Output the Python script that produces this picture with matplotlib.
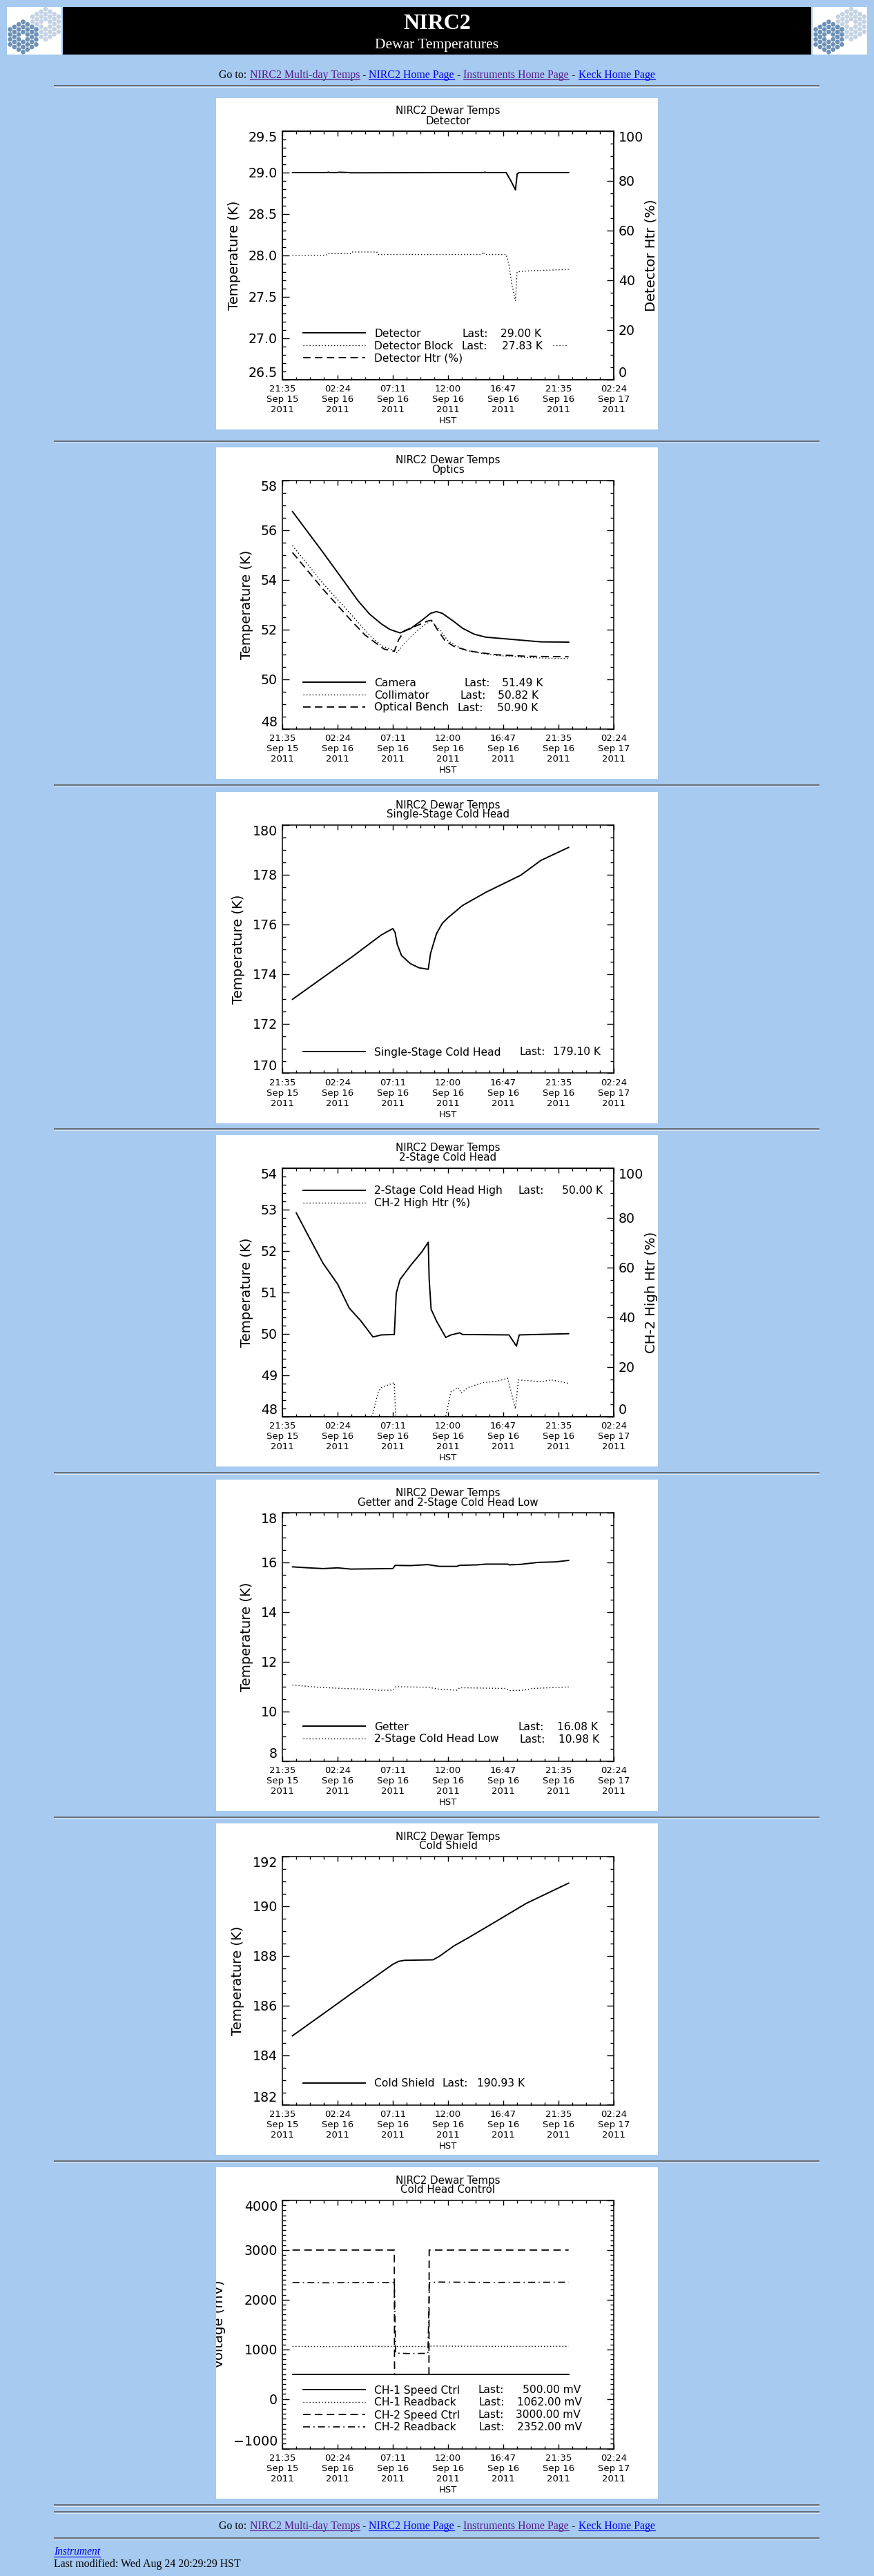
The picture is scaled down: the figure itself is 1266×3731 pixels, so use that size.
import numpy as np
import matplotlib
matplotlib.use("Agg")
import matplotlib.pyplot as plt
from matplotlib.lines import Line2D
from matplotlib.patches import Rectangle, Circle
from matplotlib.ticker import FixedLocator, MultipleLocator, FuncFormatter
from matplotlib.transforms import Bbox, TransformedBbox

plt.rcParams['font.family'] = ['DejaVu Sans']
plt.rcParams['axes.unicode_minus'] = True

# ------------------------------------------------------------------ data
# time axis: hours since 21:35 HST, Sep 15 2011
x_range = [0.0, 28.8]
x_major = [0.0, 4.8, 9.6, 14.4, 19.2, 24.0, 28.8]
x_minor_step = 1.2
xtick_labels = ["21:35\nSep 15\n2011", "02:24\nSep 16\n2011", "07:11\nSep 16\n2011",
                "12:00\nSep 16\n2011", "16:47\nSep 16\n2011", "21:35\nSep 16\n2011",
                "02:24\nSep 17\n2011"]

# Chart 1 - Detector
det_t = [0.88, 3.9, 4.0, 4.1, 4.8, 4.9, 5.8, 5.9, 17.5, 17.6, 17.7, 19.45, 19.86, 20.26, 20.41, 20.6, 24.88]
det_v = [29.00, 29.00, 29.005, 29.00, 29.00, 29.004, 29.00, 28.997, 29.00, 29.005, 29.00, 29.00, 28.90, 28.79, 28.985, 29.00, 29.00]
detblk_t = [0.88, 3.8, 3.9, 6.0, 6.1, 8.2, 8.3, 17.3, 17.45, 17.6, 19.45, 19.7, 19.96, 20.26, 20.4, 21.2, 24.88]
detblk_v = [28.00, 28.00, 28.02, 28.02, 28.04, 28.04, 28.01, 28.01, 28.04, 28.01, 28.01, 27.88, 27.64, 27.45, 27.80, 27.81, 27.83]

# Chart 2 - Optics
cam_t = [0.88, 3.54, 5.56, 6.57, 7.58, 8.59, 9.35, 10.23, 11.12, 12.13, 12.88, 13.39, 13.90, 14.91, 15.66, 16.67, 17.68, 18.70, 19.96, 21.22, 22.48, 24.88]
cam_v = [56.75, 55.10, 53.81, 53.16, 52.62, 52.23, 52.00, 51.86, 52.03, 52.37, 52.65, 52.72, 52.65, 52.32, 52.05, 51.81, 51.69, 51.65, 51.60, 51.55, 51.50, 51.49]
coll_t = [0.88, 3.54, 6.06, 7.58, 8.59, 9.60, 9.98, 10.61, 11.62, 12.88, 13.64, 14.40, 15.41, 16.17, 17.43, 18.69, 21.22, 24.88]
coll_v = [55.38, 53.85, 52.56, 51.77, 51.35, 51.17, 51.07, 51.44, 51.91, 52.37, 52.00, 51.54, 51.26, 51.14, 51.03, 50.95, 50.87, 50.82]
bench_t = [0.88, 3.54, 6.06, 7.20, 8.84, 9.73, 10.10, 10.61, 11.62, 12.63, 13.00, 13.39, 14.15, 14.91, 16.17, 17.43, 18.69, 21.22, 24.88]
bench_v = [55.10, 53.62, 52.32, 51.77, 51.21, 51.12, 51.58, 51.95, 52.14, 52.34, 52.37, 52.05, 51.54, 51.32, 51.14, 51.05, 50.98, 50.92, 50.90]

# Chart 3 - Single-Stage Cold Head
ss_t = [0.88, 3.54, 6.06, 8.59, 9.60, 9.80, 9.98, 10.36, 11.12, 11.87, 12.68, 12.88, 13.39, 13.90, 14.40, 15.66, 17.68, 20.72, 22.48, 24.88]
ss_v = [172.98, 173.86, 174.69, 175.57, 175.83, 175.67, 175.20, 174.74, 174.42, 174.25, 174.19, 174.83, 175.62, 176.04, 176.27, 176.76, 177.29, 177.98, 178.58, 179.10]

# Chart 4 - 2-Stage Cold Head
ch2hi_t = [1.21, 2.27, 3.54, 4.80, 5.81, 6.82, 7.88, 8.59, 9.73, 9.90, 10.23, 11.12, 12.13, 12.68, 12.76, 12.93, 13.39, 14.20, 14.65, 15.41, 15.66, 19.70, 20.34, 20.59, 24.88]
ch2hi_v = [52.92, 52.36, 51.70, 51.20, 50.62, 50.31, 49.92, 49.97, 49.98, 50.98, 51.31, 51.64, 51.98, 52.21, 51.31, 50.59, 50.31, 49.91, 49.97, 50.02, 49.98, 49.97, 49.70, 49.97, 50.00]
ch2htr_t = [7.75, 7.83, 8.34, 8.59, 9.73, 9.85, 14.20, 14.65, 15.28, 15.54, 16.17, 17.43, 18.69, 19.58, 20.26, 20.51, 22.48, 23.37, 24.88]
ch2htr_v = [0.0, 0.6, 9.9, 11.6, 13.6, 0.0, 0.0, 9.9, 11.7, 9.4, 11.7, 13.6, 14.2, 15.4, 3.0, 14.7, 14.0, 14.7, 13.3]

# Chart 5 - Getter and 2-Stage Cold Head Low
getter_t = [0.88, 2.27, 3.54, 4.80, 5.94, 9.60, 9.80, 11.12, 12.63, 13.64, 15.16, 15.41, 16.93, 17.68, 19.58, 19.71, 20.72, 21.47, 22.23, 23.75, 24.88]
getter_v = [15.82, 15.78, 15.75, 15.78, 15.73, 15.75, 15.88, 15.87, 15.91, 15.84, 15.84, 15.88, 15.90, 15.93, 15.93, 15.90, 15.92, 15.96, 16.00, 16.02, 16.08]
ch2lo_t = [0.88, 3.03, 5.31, 7.33, 8.34, 9.60, 9.85, 12.63, 13.64, 15.16, 15.41, 19.45, 19.71, 20.97, 21.73, 24.88]
ch2lo_v = [11.06, 10.97, 10.92, 10.89, 10.85, 10.85, 10.99, 10.97, 10.89, 10.85, 10.95, 10.92, 10.83, 10.85, 10.92, 10.98]

# Chart 6 - Cold Shield
shield_t = [0.88, 3.54, 6.06, 8.59, 9.60, 10.11, 10.61, 13.09, 13.64, 14.91, 16.17, 18.69, 21.22, 24.88]
shield_v = [184.78, 185.66, 186.50, 187.33, 187.66, 187.78, 187.82, 187.84, 187.98, 188.40, 188.73, 189.42, 190.12, 190.93]

# Chart 7 - Cold Head Control (mV)
ch1spd_t = [0.88, 24.88]
ch1spd_v = [500.0, 500.0]
ch1rb_t = [0.88, 4.0, 8.0, 9.7, 9.8, 11.0, 12.7, 12.8, 17.0, 21.0, 24.88]
ch1rb_v = [1060, 1056, 1062, 1058, 1055, 1060, 1057, 1066, 1062, 1060, 1062]
ch2spd_t = [0.88, 9.73, 9.75, 12.74, 12.76, 24.88]
ch2spd_v = [3000, 3000, 492, 496, 3000, 3000]
ch2rb_t = [0.88, 4.0, 8.0, 9.73, 9.85, 11.0, 12.65, 12.78, 13.5, 18.0, 24.88]
ch2rb_v = [2345, 2340, 2348, 2342, 925, 915, 920, 2345, 2355, 2348, 2352]

# ------------------------------------------------------------------ page
W, H = 1266, 3731
BG = '#A6CAF0'
LINK = '#0000EE'
VISITED = '#551A8B'
fig = plt.figure(figsize=(W / 100, H / 100), dpi=100, facecolor=BG)


def fx(x):
    return x / W


def fy(y):
    return 1 - y / H


def hline(y, x0=78, x1=1187):
    fig.add_artist(Line2D([fx(x0), fx(x1)], [fy(y), fy(y)], transform=fig.transFigure,
                          color='#5f5f5f', lw=1.2, solid_capstyle='butt'))
    fig.add_artist(Line2D([fx(x0), fx(x1)], [fy(y + 1.6), fy(y + 1.6)], transform=fig.transFigure,
                          color='#dfe8f2', lw=0.7, solid_capstyle='butt'))


def draw_logo(x0, y0, w=79, h=69):
    lax = fig.add_axes([fx(x0), fy(y0 + h), w / W, h / H])
    lax.set_xlim(0, w)
    lax.set_ylim(h, 0)
    lax.axis('off')
    lax.add_patch(Rectangle((0, 0), w, h, facecolor='white', edgecolor='none'))
    a = 4.2
    for (cx, cy, col) in [(56, 25, '#C4D3E3'), (23.5, 43.5, '#6E92B7')]:
        for q in range(-3, 4):
            for r in range(-3, 4):
                if max(abs(q), abs(r), abs(q + r)) > 3 or (q == 0 and r == 0):
                    continue
                px = cx + 1.5 * a * q
                py = cy + np.sqrt(3) * a * (r + q / 2)
                lax.add_patch(Circle((px, py), 3.35, facecolor=col, edgecolor='none', clip_on=True))


# header
draw_logo(10, 10)
draw_logo(1177, 10)
fig.add_artist(Rectangle((fx(91), fy(79)), (1175 - 91) / W, 69 / H, transform=fig.transFigure,
                         facecolor='black', edgecolor='none'))
fig.text(fx(633), fy(41.7), "NIRC2", color='white', family='Liberation Serif', weight='bold',
         fontsize=23, ha='center', va='baseline')
fig.text(fx(633), fy(70), "Dewar Temperatures", color='white', family='Liberation Serif',
         fontsize=15.5, ha='center', va='baseline')

renderer = fig.canvas.get_renderer()
NAVF = dict(family='Liberation Serif', fontsize=11.4)


def adv(s, **fp):
    t1 = fig.text(0, 0, s + "|", **fp)
    w1 = t1.get_window_extent(renderer).width
    t1.remove()
    t2 = fig.text(0, 0, "|", **fp)
    w2 = t2.get_window_extent(renderer).width
    t2.remove()
    return w1 - w2


def draw_nav(base_y):
    pieces = [("Go to: ", "black", False), ("NIRC2 Multi-day Temps", VISITED, True),
              (" - ", "black", False), ("NIRC2 Home Page", LINK, True),
              (" - ", "black", False), ("Instruments Home Page", VISITED, True),
              (" - ", "black", False), ("Keck Home Page", LINK, True)]
    total = adv(''.join(p[0] for p in pieces), **NAVF)
    x0 = 633 - total / 2
    prefix = ""
    for s, c, u in pieces:
        x = x0 + (adv(prefix, **NAVF) if prefix else 0)
        fig.text(fx(x), fy(base_y), s, color=c, ha='left', va='baseline', **NAVF)
        if u:
            w = adv(s, **NAVF)
            fig.add_artist(Line2D([fx(x), fx(x + w)], [fy(base_y + 2), fy(base_y + 2)],
                                  transform=fig.transFigure, color=c, lw=0.8))
        prefix += s


draw_nav(112.7)
hline(124)

# ------------------------------------------------------------------ charts
STY = {
    'solid': dict(linestyle='-', linewidth=1.4),
    'dot': dict(linestyle=(0, (1, 2.2)), linewidth=1.0),
    'dash': dict(linestyle=(0, (6, 3.5)), linewidth=1.3),
    'dashdot': dict(linestyle=(0, (6, 3, 1, 3)), linewidth=1.2),
}
PANEL_X = 313
YTICK_FS = 13.7
YLAB_FS = 14.1
XTICK_FS = 9.5
TITLE_FS = 10.8
LEG_FS = 11.2


def draw_chart(top, subtitle, ylim, ystep, ymstep, yfmt, series, legend, legend_y,
               ylabel='Temperature (K)', right=None):
    left = PANEL_X
    fig.add_artist(Rectangle((fx(left), fy(top + 480)), 640 / W, 480 / H, transform=fig.transFigure,
                             facecolor='white', edgecolor='none', zorder=-5))
    clip = TransformedBbox(Bbox([[fx(left), fy(top + 480)], [fx(left + 640), fy(top)]]),
                           fig.transFigure)
    ax = fig.add_axes([fx(left + 96), fy(top + 407.5), 480 / W, 359.5 / H])
    ax.set_facecolor('white')
    ax.set_xlim(*x_range)
    ax.set_ylim(*ylim)
    for sp in ax.spines.values():
        sp.set_linewidth(1.1)
    ax2 = None
    if right is not None:
        ax2 = ax.twinx()
        for sp in ax2.spines.values():
            sp.set_linewidth(1.1)
    ax.set_xticks(x_major, labels=xtick_labels)
    ax.xaxis.set_minor_locator(MultipleLocator(x_minor_step))
    yt = np.arange(ylim[0], ylim[1] + ystep * 0.01, ystep)
    ax.yaxis.set_major_locator(FixedLocator(yt))
    ax.yaxis.set_minor_locator(MultipleLocator(ymstep))
    ax.yaxis.set_major_formatter(FuncFormatter(lambda v, p: (yfmt % v).replace('-', '\u2212')))
    ax.tick_params(axis='both', which='both', direction='in', top=True, bottom=True,
                   left=True, right=(right is None), color='black', width=1.0)
    ax.tick_params(axis='y', which='major', length=7.5, pad=5, labelsize=YTICK_FS)
    ax.tick_params(axis='y', which='minor', length=3.6)
    ax.tick_params(axis='x', which='major', length=5.2, pad=5.5, labelsize=XTICK_FS)
    ax.tick_params(axis='x', which='minor', length=2.6)
    ticks = ax.yaxis.get_major_ticks()
    ticks[0].label1.set_va('bottom')
    ticks[-1].label1.set_va('top')
    ax.set_ylabel(ylabel, fontsize=YLAB_FS, labelpad=8)
    ax.yaxis.label.set_clip_box(clip)
    ax.yaxis.label.set_clip_on(True)
    ax.set_xlabel('HST', fontsize=XTICK_FS, labelpad=2)

    if ax2 is not None:
        rlabel, rlim, rstep, rmstep = right
        ax2.set_ylim(*rlim)
        ax2.yaxis.set_major_locator(FixedLocator(np.arange(rlim[0], rlim[1] + 0.01, rstep)))
        ax2.yaxis.set_minor_locator(MultipleLocator(rmstep))
        ax2.yaxis.set_major_formatter(FuncFormatter(lambda v, p: '%d' % v))
        ax2.tick_params(axis='y', which='both', direction='in', right=True, left=False,
                        color='black', width=1.0)
        ax2.tick_params(axis='y', which='major', length=7.5, pad=5, labelsize=YTICK_FS)
        ax2.tick_params(axis='y', which='minor', length=3.6)
        rt = ax2.yaxis.get_major_ticks()
        rt[0].label2.set_va('bottom')
        rt[-1].label2.set_va('top')
        ax2.set_ylabel(rlabel, fontsize=YLAB_FS, labelpad=1)
        ax2.yaxis.label.set_clip_box(clip)
        ax2.yaxis.label.set_clip_on(True)

    for (t, v, sty, on_right) in series:
        target = ax2 if on_right else ax
        target.plot(t, v, color='black', **STY[sty])

    # title
    cx = left + 336
    fig.text(fx(cx), fy(top + 23.5), "NIRC2 Dewar Temps", ha='center', va='baseline', fontsize=TITLE_FS)
    fig.text(fx(cx), fy(top + 37.5), subtitle, ha='center', va='baseline', fontsize=TITLE_FS)

    # legend (IDL style)
    for (sty, segs), ly in zip(legend, legend_y):
        fig.add_artist(Line2D([fx(left + 126), fx(left + 216)], [fy(top + ly)] * 2,
                              transform=fig.transFigure, color='black', **STY[sty]))
        for seg in segs:
            txt, sx = seg[0], seg[1]
            ha = seg[2] if len(seg) > 2 else 'left'
            fig.text(fx(left + sx), fy(top + ly + 5.5), txt, ha=ha, va='baseline', fontsize=LEG_FS)
    return ax


tops = [142, 648, 1147, 1644, 2143, 2641, 3139]

# 1 Detector
draw_chart(tops[0], "Detector", (26.5, 29.5), 0.5, 0.1, '%.1f',
           [(det_t, det_v, 'solid', False), (detblk_t, detblk_v, 'dot', False)],
           [('solid', [("Detector", 229), ("Last:", 356.5), ("29.00 K", 412)]),
            ('dot', [("Detector Block", 229), ("Last:", 355), ("27.83 K", 414)]),
            ('dash', [("Detector Htr (%)", 229)])],
           [340, 358, 376], right=("Detector Htr (%)", (0, 100), 20, 5))
# small dotted tail after "27.83 K"
fig.add_artist(Line2D([fx(PANEL_X + 488), fx(PANEL_X + 509)], [fy(tops[0] + 358)] * 2,
                      transform=fig.transFigure, color='black', **STY['dot']))
hline(639)

# 2 Optics
draw_chart(tops[1], "Optics", (48, 58), 2, 0.5, '%d',
           [(cam_t, cam_v, 'solid', False), (coll_t, coll_v, 'dot', False),
            (bench_t, bench_v, 'dash', False)],
           [('solid', [("Camera", 229), ("Last:", 359.5), ("51.49 K", 414)]),
            ('dot', [("Collimator", 229), ("Last:", 353), ("50.82 K", 408)]),
            ('dash', [("Optical Bench", 229), ("Last:", 350), ("50.90 K", 407)])],
           [340, 358, 376])
hline(1136.5)

# 3 Single-Stage
draw_chart(tops[2], "Single-Stage Cold Head", (170, 180), 2, 0.5, '%d',
           [(ss_t, ss_v, 'solid', False)],
           [('solid', [("Single-Stage Cold Head", 229), ("Last:", 439.5), ("179.10 K", 488)])],
           [376])
hline(1635)

# 4 2-Stage Cold Head
draw_chart(tops[3], "2-Stage Cold Head", (48, 54), 1, 0.2, '%d',
           [(ch2hi_t, ch2hi_v, 'solid', False), (ch2htr_t, ch2htr_v, 'dot', True)],
           [('solid', [("2-Stage Cold Head High", 229), ("Last:", 437), ("50.00 K", 501)]),
            ('dot', [("CH-2 High Htr (%)", 229)])],
           [80, 98], right=("CH-2 High Htr (%)", (0, 100), 20, 5))
hline(2133.3)

# 5 Getter
draw_chart(tops[4], "Getter and 2-Stage Cold Head Low", (8, 18), 2, 0.5, '%d',
           [(getter_t, getter_v, 'solid', False), (ch2lo_t, ch2lo_v, 'dot', False)],
           [('solid', [("Getter", 229), ("Last:", 437), ("16.08 K", 494)]),
            ('dot', [("2-Stage Cold Head Low", 229), ("Last:", 439.5), ("10.98 K", 496)])],
           [357, 375])
hline(2631.7)

# 6 Cold Shield
draw_chart(tops[5], "Cold Shield", (182, 192), 2, 0.5, '%d',
           [(shield_t, shield_v, 'solid', False)],
           [('solid', [("Cold Shield", 229), ("Last:", 328), ("190.93 K", 377.6)])],
           [376])
hline(3130)

# 7 Cold Head Control
draw_chart(tops[6], "Cold Head Control", (-1000, 4000), 1000, 100, '%d',
           [(ch1spd_t, ch1spd_v, 'solid', False), (ch1rb_t, ch1rb_v, 'dot', False),
            (ch2spd_t, ch2spd_v, 'dash', False), (ch2rb_t, ch2rb_v, 'dashdot', False)],
           [('solid', [("CH-1 Speed Ctrl", 229), ("Last:", 379), ("500.00 mV", 528, 'right')]),
            ('dot', [("CH-1 Readback", 229), ("Last:", 380.5), ("1062.00 mV", 530, 'right')]),
            ('dash', [("CH-2 Speed Ctrl", 229), ("Last:", 379), ("3000.00 mV", 528, 'right')]),
            ('dashdot', [("CH-2 Readback", 229), ("Last:", 380.5), ("2352.00 mV", 530, 'right')])],
           [322, 340, 358, 376], ylabel='Voltage (mV)')

# footer
hline(3628.3)
hline(3638.3)
draw_nav(3663.3)
hline(3675.7)
fig.text(fx(78), fy(3700), "Instrument", color=LINK, family='Liberation Serif', style='italic',
         fontsize=11.2, ha='left', va='baseline')
wi = adv("Instrument", family='Liberation Serif', style='italic', fontsize=11.2)
fig.add_artist(Line2D([fx(78), fx(78 + wi)], [fy(3702.5)] * 2, transform=fig.transFigure, color=LINK, lw=0.8))
fig.text(fx(78), fy(3718.3), "Last modified: Wed Aug 24 20:29:29 HST", color='black',
         family='Liberation Serif', fontsize=11.4, ha='left', va='baseline')

fig.savefig("out.png", dpi=100, facecolor=BG)
